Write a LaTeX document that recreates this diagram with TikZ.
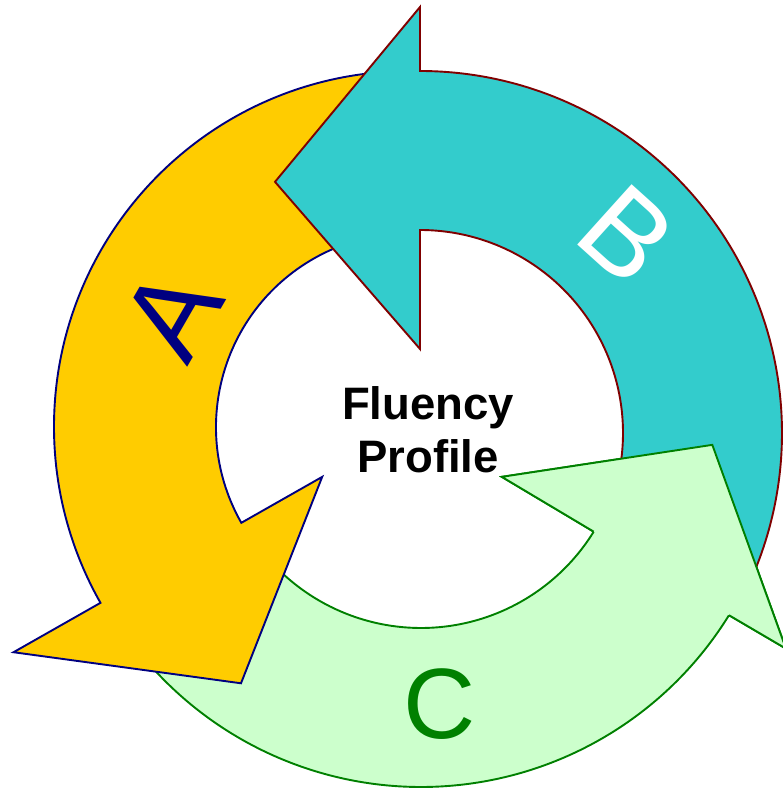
\documentclass[tikz,border=0pt]{standalone}
\usepackage{fontspec}
\setmainfont{Liberation Sans}
\usetikzlibrary{calc}
\definecolor{agold}{HTML}{FFCC00}
\definecolor{anavy}{HTML}{000080}
\definecolor{bteal}{HTML}{33CCCC}
\definecolor{bmaroon}{HTML}{800000}
\definecolor{cmint}{HTML}{CCFFCC}
\definecolor{cgreen}{HTML}{008000}
\begin{document}
\begin{tikzpicture}[x=1pt,y=1pt,
  arrowA/.style={fill=agold,draw=anavy,line width=1.9pt,line join=miter},
  arrowB/.style={fill=bteal,draw=bmaroon,line width=1.9pt,line join=miter},
  arrowC/.style={fill=cmint,draw=cgreen,line width=1.9pt,line join=miter},
  bigletter/.style={inner sep=0pt},
  title/.style={font=\bfseries\fontsize{45.5}{53}\selectfont,align=center,inner sep=0pt}]
\useasboundingbox (0,0) rectangle (783,788);
\clip (0,0) rectangle (783,788);
\coordinate (cA) at (410,361);
\coordinate (cB) at (420,355);
\coordinate (cC) at (421,363);
% C arrow (bottom)
\path[arrowC] ($(cC)+(215:362)$) arc[start angle=215,end angle=328.3,radius=362]
  -- ($(cC)+(328.5:428)$) -- ($(cC)+(356.1:292)$) -- ($(cC)+(327.3:96)$)
  -- ($(cC)+(328.3:203)$) arc[start angle=328.3,end angle=215,radius=203] -- cycle;
% A arrow (left)
\path[arrowA] ($(cA)+(92:356)$) arc[start angle=92,end angle=209.6,radius=356]
  -- ($(cA)+(209.6:456)$) -- ($(cA)+(236.6:307)$) -- ($(cA)+(209.6:101)$)
  -- ($(cA)+(209.6:194)$) arc[start angle=209.6,end angle=92,radius=194] -- cycle;
% B arrow (top right)
\path[arrowB] ($(cB)+(-25:362)$) arc[start angle=-25,end angle=90,radius=362]
  -- ($(cB)+(90:426)$) -- ($(cB)+(120:290)$) -- ($(cB)+(90:84)$)
  -- ($(cB)+(90:203)$) arc[start angle=90,end angle=-25,radius=203] -- cycle;
% C head again, above the tail of B
\fill[cmint] ($(cC)+(328.3:203)$) -- ($(cC)+(327.3:96)$) -- ($(cC)+(356.1:292)$)
  -- ($(cC)+(328.5:428)$) -- ($(cC)+(328.3:362)$) -- cycle;
\draw[arrowC,fill=none] ($(cC)+(328.3:203)$) -- ($(cC)+(327.3:96)$) -- ($(cC)+(356.1:292)$)
  -- ($(cC)+(328.5:428)$) -- ($(cC)+(328.3:362)$);
% labels
\node[title] (ttl) at (428,358.5) {Fluency\\Profile};
\node[bigletter,rotate=60,text=anavy,font=\fontsize{118}{118}\selectfont] (la) at (172,475) {A};
\node[bigletter,rotate=-42,text=white,font=\fontsize{118}{118}\selectfont] (lb) at (627,553) {B};
\node[bigletter,text=cgreen,font=\fontsize{100}{100}\selectfont] (lc) at (439.5,84) {C};
\end{tikzpicture}
\end{document}
